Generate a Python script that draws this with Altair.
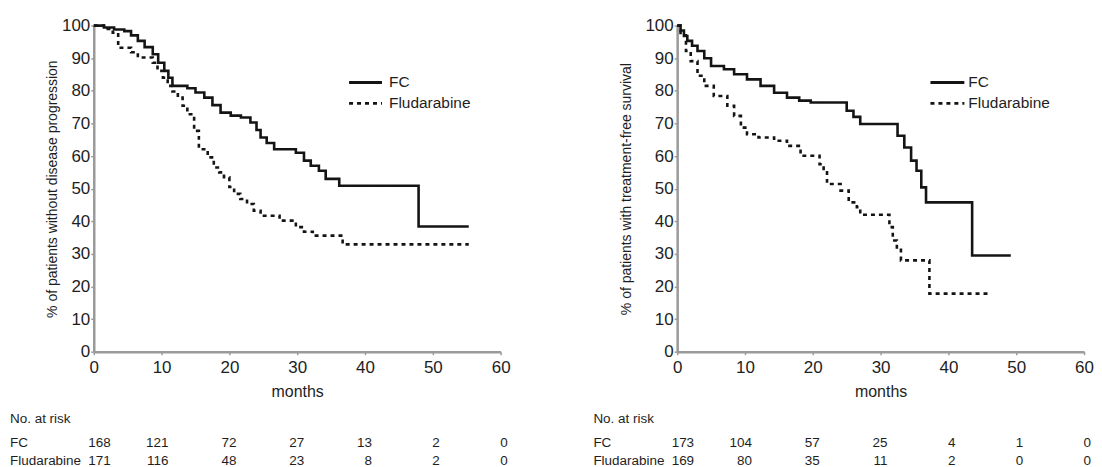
import altair as alt
import pandas as pd

# ---------------- data ----------------
GROUPS = ["FC", "Fludarabine"]
X_TICKS = [0, 10, 20, 30, 40, 50, 60]
Y_TICKS = [0, 10, 20, 30, 40, 50, 60, 70, 80, 90, 100]

# Left panel: progression-free
pfs_fc_months = [0, 1.5, 3.0, 4.5, 5.5, 6.5, 7.5, 8.7, 9.5, 10.4, 11.0, 11.6, 13.8, 15.0, 16.3, 17.5,
                 18.7, 20.2, 21.7, 23.1, 24.0, 24.6, 25.5, 26.6, 29.8, 31.0, 32.0, 33.2, 34.2, 36.2,
                 47.9, 55.3]
pfs_fc_pct = [100, 99.4, 98.8, 98.3, 97.0, 95.3, 93.4, 91.2, 88.6, 86.1, 84.0, 81.5, 80.8, 79.5, 77.9,
              75.6, 73.3, 72.4, 71.8, 70.3, 68.0, 65.7, 64.0, 62.1, 61.0, 58.6, 57.0, 55.5, 53.0, 50.9,
              38.4, 38.4]
pfs_flu_months = [0, 1.5, 2.8, 3.6, 5.5, 6.5, 8.7, 9.4, 10.2, 10.9, 11.6, 12.4, 13.1, 13.8, 14.8, 15.5,
                  16.8, 17.7, 18.5, 19.2, 20.0, 20.7, 21.6, 22.6, 23.6, 24.6, 27.4, 29.8, 31.0, 32.3,
                  36.7, 55.3]
pfs_flu_pct = [100, 99.0, 97.8, 93.2, 91.8, 90.2, 88.6, 86.1, 84.0, 81.5, 79.8, 77.9, 75.4, 72.8, 67.7,
               62.1, 59.6, 56.5, 55.0, 53.5, 50.5, 48.4, 46.8, 45.3, 43.2, 41.7, 40.2, 38.2, 36.8, 35.6,
               32.9, 32.9]

# Right panel: treatment-free survival
tfs_fc_months = [0, 0.5, 1.0, 1.5, 2.2, 3.0, 4.0, 5.0, 6.9, 8.4, 10.3, 12.3, 14.3, 16.2, 18.0, 19.7,
                 25.0, 26.0, 27.0, 32.5, 33.5, 34.5, 35.3, 36.0, 36.7, 43.5, 49.2]
tfs_fc_pct = [100, 98.5, 96.8, 95.3, 93.8, 92.2, 90.0, 87.6, 86.6, 85.1, 83.5, 81.5, 79.4, 77.9, 77.0,
              76.4, 73.9, 72.0, 69.8, 66.2, 62.6, 58.6, 55.5, 50.4, 45.8, 29.5, 29.5]
tfs_flu_months = [0, 0.5, 1.3, 2.0, 3.0, 4.0, 5.4, 7.4, 8.4, 9.4, 10.3, 12.0, 14.3, 16.2, 18.2, 21.0,
                  21.6, 22.1, 24.1, 25.3, 26.5, 27.0, 31.3, 31.8, 32.4, 33.0, 37.2, 45.8]
tfs_flu_pct = [100, 97.0, 92.2, 89.1, 84.6, 81.5, 78.4, 75.4, 72.3, 68.7, 66.7, 65.7, 64.7, 63.1, 60.1,
               57.5, 55.5, 51.4, 49.4, 45.8, 44.3, 42.0, 38.2, 34.1, 32.0, 28.0, 17.8, 17.8]

# Numbers at risk
risk_months = [0, 10, 20, 30, 40, 50, 60]
risk_header = "No. at risk"
pfs_risk_fc = [168, 121, 72, 27, 13, 2, 0]
pfs_risk_flu = [171, 116, 48, 23, 8, 2, 0]
tfs_risk_fc = [173, 104, 57, 25, 4, 1, 0]
tfs_risk_flu = [169, 80, 35, 11, 2, 0, 0]

pfs_ytitle = "% of patients without disease progression"
tfs_ytitle = "% of patients with treatment-free survival"
x_title = "months"

# ---------------- styling ----------------
FONT = "Liberation Sans, Arial, sans-serif"
INK = "#141414"
TXT = "#1e1e1e"
AXIS_GREY = "#9a9a9a"
W, H = 408, 327
ROW_HEADER_Y, ROW_FC_Y, ROW_FLU_Y = 395, 419, 437
ROW_LABEL_X = -84
LEG_Y = [57, 78]
DASHES = [[1, 0], [4, 4]]


def km_frame(months, pct, group):
    return pd.DataFrame({"month": months, "pct": pct, "group": group})


def panel(fc_m, fc_v, fl_m, fl_v, ytitle, risk_fc, risk_fl, ytitle_pad, leg_x0, leg_x1, leg_tx):
    curves = pd.concat([km_frame(fc_m, fc_v, GROUPS[0]), km_frame(fl_m, fl_v, GROUPS[1])],
                       ignore_index=True)
    x = alt.X("month:Q",
              scale=alt.Scale(domain=[0, 60], nice=False, zero=False),
              axis=alt.Axis(values=X_TICKS, title=x_title, titleFont=FONT, titleFontSize=16,
                            titleFontWeight="normal", titlePadding=8, labelPadding=5,
                            labelFlush=False))
    y = alt.Y("pct:Q",
              scale=alt.Scale(domain=[0, 100], nice=False),
              axis=alt.Axis(values=Y_TICKS, title=ytitle, titleFont=FONT, titleFontSize=14,
                            titleFontWeight="normal", titlePadding=ytitle_pad, labelPadding=1))
    lines = alt.Chart(curves).mark_line(interpolate="step-after", color=INK, strokeWidth=2.6).encode(
        x=x, y=y,
        strokeDash=alt.StrokeDash("group:N", scale=alt.Scale(domain=GROUPS, range=DASHES),
                                  legend=None),
    )
    layers = [lines]

    # hand-drawn legend (key line + label per group)
    for i, g in enumerate(GROUPS):
        gdf = pd.DataFrame({"group": [g]})
        layers.append(
            alt.Chart(gdf).mark_rule(color=INK, strokeWidth=3, strokeDash=DASHES[i]).encode(
                x=alt.value(leg_x0), x2=alt.value(leg_x1), y=alt.value(LEG_Y[i])))
        layers.append(
            alt.Chart(gdf).mark_text(align="left", baseline="middle", font=FONT, fontSize=15.5,
                                     color=TXT).encode(
                x=alt.value(leg_tx), y=alt.value(LEG_Y[i]), text="group:N"))

    # numbers at risk
    risk = pd.DataFrame({"month": risk_months, "fc": risk_fc, "fl": risk_fl})
    txt = dict(font=FONT, fontSize=13.5, color=TXT, baseline="middle")
    first = alt.datum.month == 0
    later = alt.datum.month > 0
    for field, ypos in (("fc", ROW_FC_Y), ("fl", ROW_FLU_Y)):
        layers.append(alt.Chart(risk).transform_filter(first).mark_text(
            align="right", dx=17, **txt).encode(x=x, y=alt.value(ypos), text=f"{field}:Q"))
        layers.append(alt.Chart(risk).transform_filter(later).mark_text(
            align="right", dx=7, **txt).encode(x=x, y=alt.value(ypos), text=f"{field}:Q"))
    labels = pd.DataFrame({"t": [risk_header] + GROUPS})
    for i, ypos in enumerate((ROW_HEADER_Y, ROW_FC_Y, ROW_FLU_Y)):
        layers.append(alt.Chart(labels.iloc[[i]]).mark_text(align="left", **txt).encode(
            x=alt.value(ROW_LABEL_X), y=alt.value(ypos), text="t:N"))
    return alt.layer(*layers).properties(width=W, height=H)


left = panel(pfs_fc_months, pfs_fc_pct, pfs_flu_months, pfs_flu_pct, pfs_ytitle,
             pfs_risk_fc, pfs_risk_flu, 2, 256, 289, 296)
right = panel(tfs_fc_months, tfs_fc_pct, tfs_flu_months, tfs_flu_pct, tfs_ytitle,
              tfs_risk_fc, tfs_risk_flu, 11, 254, 288, 292)

chart = (
    alt.hconcat(left, right, spacing=177, bounds="flush")
    .resolve_scale(strokeDash="independent")
    .properties(padding={"left": 2, "top": 8, "right": 0, "bottom": 0}, background="white")
    .configure_view(stroke=None)
    .configure_axis(domainColor=AXIS_GREY, domainWidth=2.5, tickColor=AXIS_GREY, tickWidth=1.5,
                    tickSize=3, labelFont=FONT, labelFontSize=17, labelColor=TXT,
                    titleColor=TXT, grid=False)
)

chart.save("out.html", embed_options={"renderer": "svg", "actions": False})
